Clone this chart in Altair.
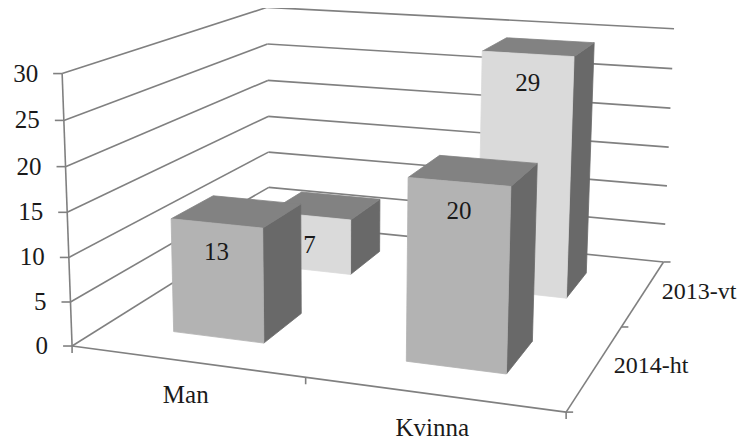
import numpy as np
import pandas as pd
import altair as alt

# ---------------- data ----------------
categories = ["Man", "Kvinna"]
series = ["2014-ht", "2013-vt"]          # front row, back row
values_2014_ht = [13, 20]
values_2013_vt = [7, 29]
value_ticks = [0, 5, 10, 15, 20, 25, 30]

# ---------------- style / view ----------------
W, H = 731, 437
BAR_W, BAR_D = 0.4, 0.4
H_SCALE = 15.0
FONT = "Liberation Serif"
FS = 25
GRID = "#808080"
SHADES = {"front0": "#b3b3b3", "front1": "#dadada", "top": "#828282", "side": "#696969"}

# camera: frame corners (category x, depth z, value h) -> page pixels
VIEW_WORLD = [(0, 0, 0), (0, 0, 10), (0, 0, 20), (0, 0, 30), (0, 2, 5), (0, 2, 15),
              (0, 2, 30), (2, 2, 0), (2, 2, 15), (2, 2, 30), (2, 1, 0), (2, 0, 0), (1, 0, 0)]
VIEW_PAGE = [(73, 346), (69, 258), (65, 167), (62, 73), (268, 187), (268, 117),
             (268, 7), (664, 262), (668, 147), (674, 29), (622, 327), (566, 412), (305, 377)]


def fit_camera(world, page):
    rows = []
    for (x, z, h), (u, v) in zip(world, page):
        X = [x, z, h / H_SCALE, 1.0]
        un, vn = (u - 370) / 300.0, (v - 220) / 300.0
        rows.append(X + [0.0] * 4 + [-un * c for c in X])
        rows.append([0.0] * 4 + X + [-vn * c for c in X])
    _, _, vt = np.linalg.svd(np.array(rows))
    Pn = vt[-1].reshape(3, 4)
    T = np.array([[300.0, 0, 370], [0, 300.0, 220], [0, 0, 1]])
    P = T @ Pn
    return P / P[2, 3]


P = fit_camera(VIEW_WORLD, VIEW_PAGE)


def proj(xe, ze, he):
    def lin(r):
        return (f"({P[r,0]:.10g}*({xe})+{P[r,1]:.10g}*({ze})+"
                f"{P[r,2]/H_SCALE:.10g}*({he})+{P[r,3]:.10g})")
    w = lin(2)
    return f"{lin(0)}/{w}", f"{lin(1)}/{w}"


xs = alt.Scale(domain=[8, 8 + W], nice=False, zero=False)
ys = alt.Scale(domain=[8, 8 + H], nice=False, zero=False, reverse=True)
shade_scale = alt.Scale(domain=list(SHADES.keys()), range=list(SHADES.values()))

# ---------------- frame (walls, floor, gridlines) ----------------
seg = []
for t in value_ticks:
    seg.append(dict(xa=0, za=0, ha=t, xb=0, zb=2, hb=t))
    seg.append(dict(xa=0, za=2, ha=t, xb=2, zb=2, hb=t))
seg.append(dict(xa=0, za=0, ha=0, xb=0, zb=0, hb=max(value_ticks)))
seg.append(dict(xa=0, za=0, ha=0, xb=2, zb=0, hb=0))
seg.append(dict(xa=2, za=0, ha=0, xb=2, zb=2, hb=0))
seg_df = pd.DataFrame(seg)
ua, va = proj("datum.xa", "datum.za", "datum.ha")
ub, vb = proj("datum.xb", "datum.zb", "datum.hb")
frame = alt.Chart(seg_df).transform_calculate(ua=ua, va=va, ub=ub, vb=vb).mark_rule(
    color=GRID, strokeWidth=1.6).encode(
    x=alt.X("ua:Q", scale=xs, axis=None), y=alt.Y("va:Q", scale=ys, axis=None),
    x2="ub:Q", y2="vb:Q")

# ticks
tk = []
for t in value_ticks:
    tk.append(dict(kind="value", x=0, z=0, h=t))
for i in range(len(categories) + 1):
    tk.append(dict(kind="cat", x=i, z=0, h=0))
for j in range(len(series) + 1):
    tk.append(dict(kind="ser", x=2, z=j, h=0))
tk_df = pd.DataFrame(tk)
tu, tv = proj("datum.x", "datum.z", "datum.h")
ticks = alt.Chart(tk_df).transform_calculate(u=tu, v=tv).transform_calculate(
    u2="datum.u + (datum.kind=='value' ? -9 : datum.kind=='ser' ? 7 : 0)",
    v2="datum.v + (datum.kind=='cat' ? 7 : 0)").mark_rule(color=GRID, strokeWidth=1.6).encode(
    x=alt.X("u:Q", scale=xs, axis=None), y=alt.Y("v:Q", scale=ys, axis=None),
    x2="u2:Q", y2="v2:Q")

# ---------------- bars ----------------
vals = [values_2014_ht, values_2013_vt]
rows = []
for j, s in enumerate(series):
    for i, c in enumerate(categories):
        v = vals[j][i]
        x0, x1 = i + 0.5 - BAR_W / 2, i + 0.5 + BAR_W / 2
        z0, z1 = j + 0.5 - BAR_D / 2, j + 0.5 + BAR_D / 2
        faces = {
            "side": [(x1, z0, 0), (x1, z1, 0), (x1, z1, v), (x1, z0, v)],
            "top": [(x0, z0, v), (x1, z0, v), (x1, z1, v), (x0, z1, v)],
            "front": [(x0, z0, 0), (x1, z0, 0), (x1, z0, v), (x0, z0, v)],
        }
        for fname, pts in faces.items():
            shade = f"front{j}" if fname == "front" else fname
            for k, (x, z, h) in enumerate(pts + pts[:1]):
                rows.append(dict(row=j, key=f"{c}|{s}|{fname}", shade=shade, k=k, x=x, z=z, h=h))
bars_df = pd.DataFrame(rows)
bu, bv = proj("datum.x", "datum.z", "datum.h")


def bar_layer(df):
    return alt.Chart(df).transform_calculate(u=bu, v=bv).mark_line(
        strokeWidth=0.8, strokeJoin="round").encode(
        x=alt.X("u:Q", scale=xs, axis=None), y=alt.Y("v:Q", scale=ys, axis=None),
        detail="key:N", order="k:Q",
        fill=alt.Fill("shade:N", scale=shade_scale, legend=None),
        stroke=alt.Stroke("shade:N", scale=shade_scale, legend=None))


back_bars = bar_layer(bars_df[bars_df.row == 1])
front_bars = bar_layer(bars_df[bars_df.row == 0])

# ---------------- labels ----------------
lab = []
for j, s in enumerate(series):
    for i, c in enumerate(categories):
        lab.append(dict(x=i + 0.5, z=j + 0.5 - BAR_D / 2, h=vals[j][i], text=str(vals[j][i])))
lab_df = pd.DataFrame(lab)
lu, lv = proj("datum.x", "datum.z", "datum.h")
bar_labels = alt.Chart(lab_df).transform_calculate(u=lu, v=lv).mark_text(
    baseline="middle", align="center", dy=29, font=FONT, fontSize=FS, color="#1a1a1a").encode(
    x=alt.X("u:Q", scale=xs, axis=None), y=alt.Y("v:Q", scale=ys, axis=None), text="text:N")

vl_df = pd.DataFrame({"x": 0, "z": 0, "h": value_ticks, "text": [str(t) for t in value_ticks]})
value_labels = alt.Chart(vl_df).transform_calculate(u=lu, v=lv).mark_text(
    baseline="middle", align="right", dx=-24, font=FONT, fontSize=FS, color="#1a1a1a").encode(
    x=alt.X("u:Q", scale=xs, axis=None), y=alt.Y("v:Q", scale=ys, axis=None), text="text:N")

cl_df = pd.DataFrame({"x": [i + 0.5 for i in range(len(categories))], "z": 0, "h": 0, "text": categories})
cat_labels = alt.Chart(cl_df).transform_calculate(u=lu, v=lv).mark_text(
    baseline="middle", align="center", dy=34, font=FONT, fontSize=FS, color="#1a1a1a").encode(
    x=alt.X("u:Q", scale=xs, axis=None), y=alt.Y("v:Q", scale=ys, axis=None), text="text:N")

sl_df = pd.DataFrame({"x": 2, "z": [j + 0.5 for j in range(len(series))], "h": 0, "text": series})
ser_labels = alt.Chart(sl_df).transform_calculate(u=lu, v=lv).mark_text(
    baseline="middle", align="left", dx=18, font=FONT, fontSize=24, color="#1a1a1a").encode(
    x=alt.X("u:Q", scale=xs, axis=None), y=alt.Y("v:Q", scale=ys, axis=None), text="text:N")

chart = alt.layer(frame, ticks, back_bars, front_bars, bar_labels, value_labels,
                  cat_labels, ser_labels).properties(
    width=W, height=H, padding=0, autosize=alt.AutoSizeParams(type="none"), background="white"
).configure_view(stroke=None)

chart.save("out.html", embed_options={"renderer": "svg", "actions": False})
